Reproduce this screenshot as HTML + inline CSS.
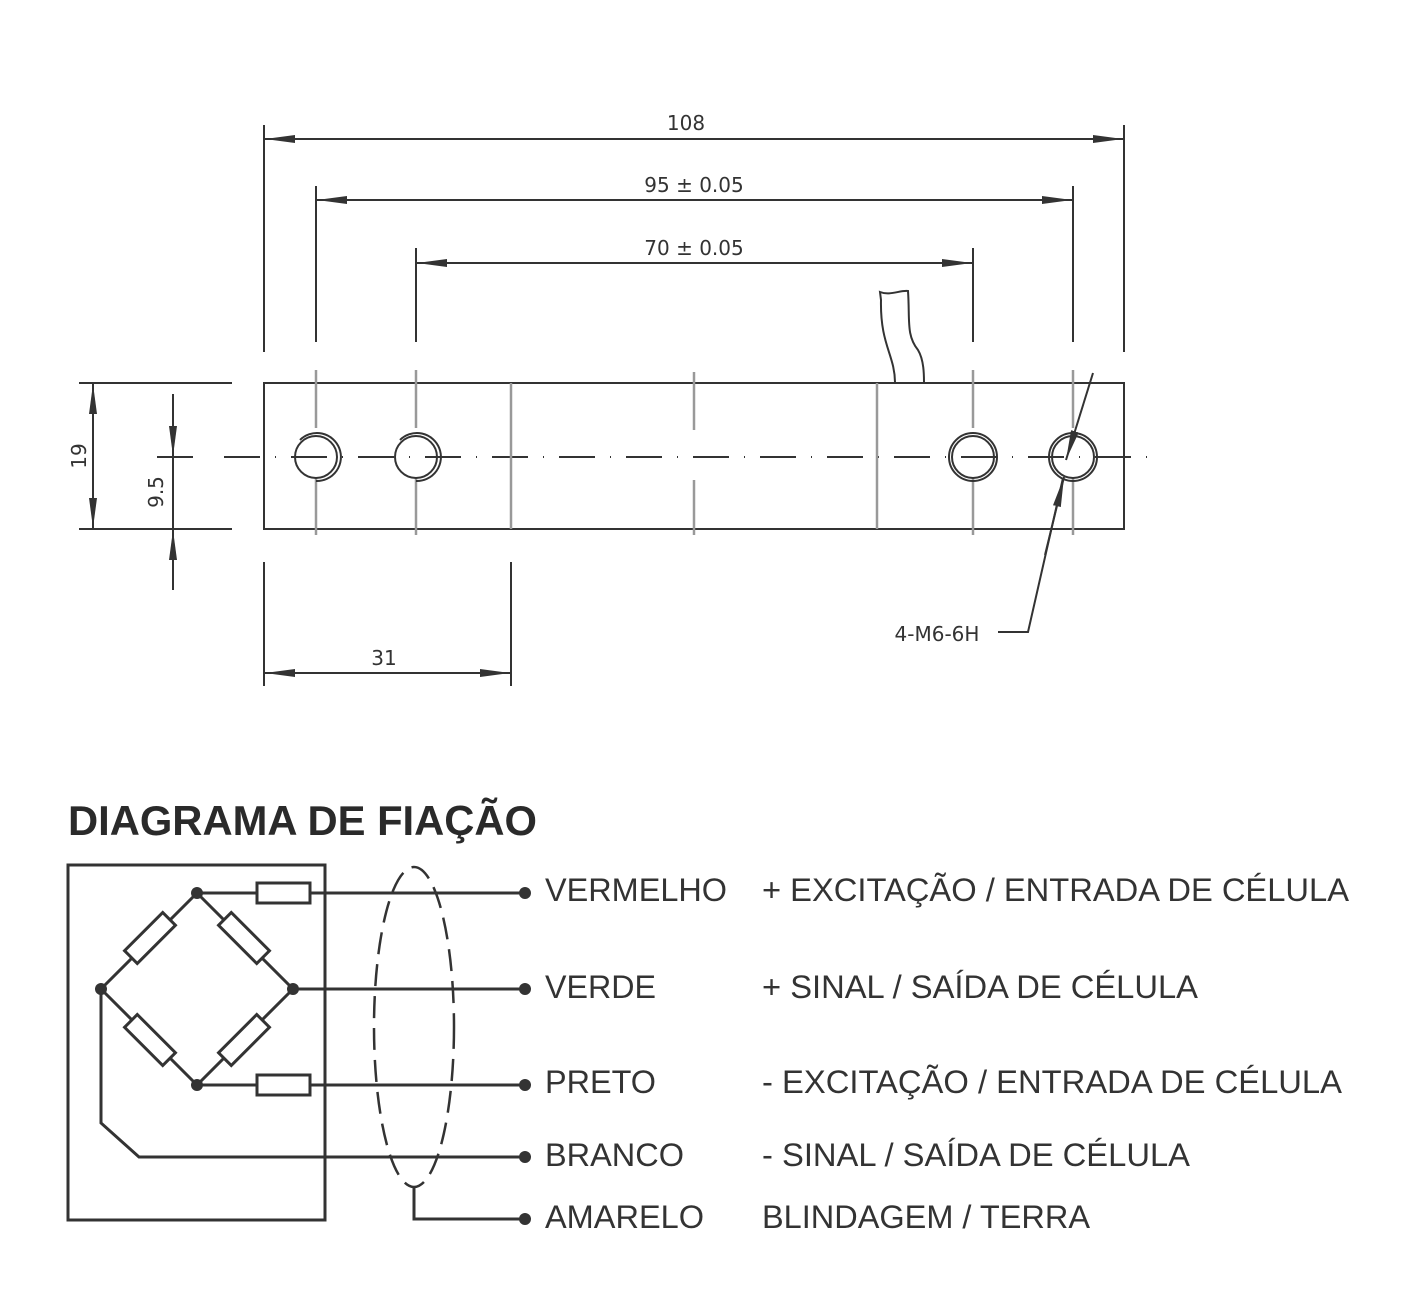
<!DOCTYPE html>
<html><head><meta charset="utf-8"><style>
html,body{margin:0;padding:0;background:#fff;}
svg{display:block;}
</style></head><body>
<svg width="1419" height="1290" viewBox="0 0 1419 1290" xmlns="http://www.w3.org/2000/svg">
<defs>
<marker id="ah" viewBox="0 0 30 10" refX="30" refY="5" markerWidth="30" markerHeight="10" markerUnits="userSpaceOnUse" orient="auto"><path d="M0,1 L30,5 L0,9 Z" fill="#333"/></marker>
</defs>
<g stroke="#333" stroke-width="2" fill="none">
<line x1="264" y1="125" x2="264" y2="352"/>
<line x1="1124" y1="125" x2="1124" y2="352"/>
<line x1="316" y1="186" x2="316" y2="342"/>
<line x1="1073" y1="186" x2="1073" y2="342"/>
<line x1="416" y1="248" x2="416" y2="342"/>
<line x1="973" y1="248" x2="973" y2="342"/>
<line x1="694" y1="139" x2="265" y2="139" marker-end="url(#ah)"/>
<line x1="694" y1="139" x2="1123" y2="139" marker-end="url(#ah)"/>
<line x1="694" y1="200" x2="317" y2="200" marker-end="url(#ah)"/>
<line x1="694" y1="200" x2="1072" y2="200" marker-end="url(#ah)"/>
<line x1="694" y1="263" x2="417" y2="263" marker-end="url(#ah)"/>
<line x1="694" y1="263" x2="972" y2="263" marker-end="url(#ah)"/>
<rect x="264" y="383" width="860" height="146"/>
<line x1="79" y1="383" x2="232" y2="383"/>
<line x1="79" y1="529" x2="232" y2="529"/>
<line x1="93" y1="456" x2="93" y2="384" marker-end="url(#ah)"/>
<line x1="93" y1="456" x2="93" y2="528" marker-end="url(#ah)"/>
<line x1="173" y1="394" x2="173" y2="456" marker-end="url(#ah)"/>
<line x1="173" y1="590" x2="173" y2="530" marker-end="url(#ah)"/>
<line x1="173" y1="456" x2="173" y2="529"/>
<line x1="157" y1="457" x2="193" y2="457"/>
<line x1="224" y1="457" x2="1150" y2="457" stroke-dasharray="36,15,1,15"/>
<line x1="264" y1="562" x2="264" y2="686"/>
<line x1="511" y1="562" x2="511" y2="686"/>
<line x1="388" y1="673" x2="265" y2="673" marker-end="url(#ah)"/>
<line x1="388" y1="673" x2="510" y2="673" marker-end="url(#ah)"/>
<path d="M895,383 C895,355 880,345 881,300 L880,292 C890,296 900,290 908,291 C910,320 906,335 918,350 C924,360 924,375 924,383"/>
<line x1="1093" y1="373" x2="1066" y2="460" marker-end="url(#ah)"/>
<polyline points="998,632 1028,632 1063,478"/>
<line x1="1045" y1="555" x2="1064" y2="477" marker-end="url(#ah)"/>
</g>
<g stroke="#999" stroke-width="2.5" fill="none">
<line x1="511" y1="383" x2="511" y2="529"/>
<line x1="877" y1="383" x2="877" y2="529"/>
<line x1="694" y1="372" x2="694" y2="430"/>
<line x1="694" y1="480" x2="694" y2="535"/>
<line x1="316" y1="370" x2="316" y2="428"/><line x1="316" y1="478" x2="316" y2="535"/>
<line x1="416" y1="370" x2="416" y2="428"/><line x1="416" y1="478" x2="416" y2="535"/>
<line x1="973" y1="370" x2="973" y2="428"/><line x1="973" y1="478" x2="973" y2="535"/>
<line x1="1073" y1="370" x2="1073" y2="428"/><line x1="1073" y1="478" x2="1073" y2="535"/>
</g>
<g stroke="#333" stroke-width="2" fill="none">
<circle cx="316" cy="457" r="21"/><path d="M300,440 A24,24 0 1,1 316,481"/>
<circle cx="416" cy="457" r="21"/><path d="M400,440 A24,24 0 1,1 416,481"/>
<circle cx="973" cy="457" r="21"/><circle cx="973" cy="457" r="24"/>
<circle cx="1073" cy="457" r="21"/><circle cx="1073" cy="457" r="24"/>
</g>
<g font-family="'DejaVu Sans','Liberation Sans',sans-serif" font-size="20" fill="#333">
<text x="686" y="130" text-anchor="middle">108</text>
<text x="694" y="192" text-anchor="middle">95 ± 0.05</text>
<text x="694" y="255" text-anchor="middle">70 ± 0.05</text>
<text x="384" y="665" text-anchor="middle">31</text>
<text x="937" y="641" text-anchor="middle">4-M6-6H</text>
<text transform="translate(86,456) rotate(-90)" text-anchor="middle">19</text>
<text transform="translate(163,492) rotate(-90)" text-anchor="middle">9.5</text>
</g>
<text x="68" y="835" font-family="'Liberation Sans',sans-serif" font-weight="bold" font-size="42" fill="#2a2a2a" textLength="469" lengthAdjust="spacingAndGlyphs">DIAGRAMA DE FIAÇÃO</text>
<g stroke="#333" stroke-width="3" fill="none">
<rect x="68" y="865" width="257" height="355"/>
<polygon points="197,893 293,989 197,1085 101,989"/>
<line x1="197" y1="893" x2="525" y2="893"/>
<line x1="293" y1="989" x2="525" y2="989"/>
<line x1="197" y1="1085" x2="525" y2="1085"/>
<polyline points="101,989 101,1123 139,1157 525,1157"/>
<polyline points="414,1187 414,1219 525,1219"/>
<rect x="257" y="883" width="53" height="20" fill="#fff"/>
<rect x="257" y="1075" width="53" height="20" fill="#fff"/>
<rect x="-27" y="-9" width="54" height="18" fill="#fff" transform="translate(150,938) rotate(-45)"/>
<rect x="-27" y="-9" width="54" height="18" fill="#fff" transform="translate(244,938) rotate(45)"/>
<rect x="-27" y="-9" width="54" height="18" fill="#fff" transform="translate(150,1040) rotate(45)"/>
<rect x="-27" y="-9" width="54" height="18" fill="#fff" transform="translate(244,1040) rotate(-45)"/>
<ellipse cx="414" cy="1027" rx="40" ry="160" stroke-dasharray="22,10" stroke-width="2.5"/>
</g>
<g fill="#333">
<circle cx="197" cy="893" r="6"/><circle cx="293" cy="989" r="6"/><circle cx="197" cy="1085" r="6"/><circle cx="101" cy="989" r="6"/>
<circle cx="525" cy="893" r="6"/><circle cx="525" cy="989" r="6"/><circle cx="525" cy="1085" r="6"/><circle cx="525" cy="1157" r="6"/><circle cx="525" cy="1219" r="6"/>
</g>
<g font-family="'Liberation Sans',sans-serif" font-size="32" fill="#333">
<text x="545" y="901" textLength="182" lengthAdjust="spacingAndGlyphs">VERMELHO</text>
<text x="762" y="901" textLength="587" lengthAdjust="spacingAndGlyphs">+ EXCITAÇÃO / ENTRADA DE CÉLULA</text>
<text x="545" y="998" textLength="111" lengthAdjust="spacingAndGlyphs">VERDE</text>
<text x="762" y="998" textLength="436" lengthAdjust="spacingAndGlyphs">+ SINAL / SAÍDA DE CÉLULA</text>
<text x="545" y="1093" textLength="111" lengthAdjust="spacingAndGlyphs">PRETO</text>
<text x="762" y="1093" textLength="580" lengthAdjust="spacingAndGlyphs">- EXCITAÇÃO / ENTRADA DE CÉLULA</text>
<text x="545" y="1166" textLength="139" lengthAdjust="spacingAndGlyphs">BRANCO</text>
<text x="762" y="1166" textLength="428" lengthAdjust="spacingAndGlyphs">- SINAL / SAÍDA DE CÉLULA</text>
<text x="545" y="1228" textLength="159" lengthAdjust="spacingAndGlyphs">AMARELO</text>
<text x="762" y="1228" textLength="328" lengthAdjust="spacingAndGlyphs">BLINDAGEM / TERRA</text>
</g>
</svg>
</body></html>
